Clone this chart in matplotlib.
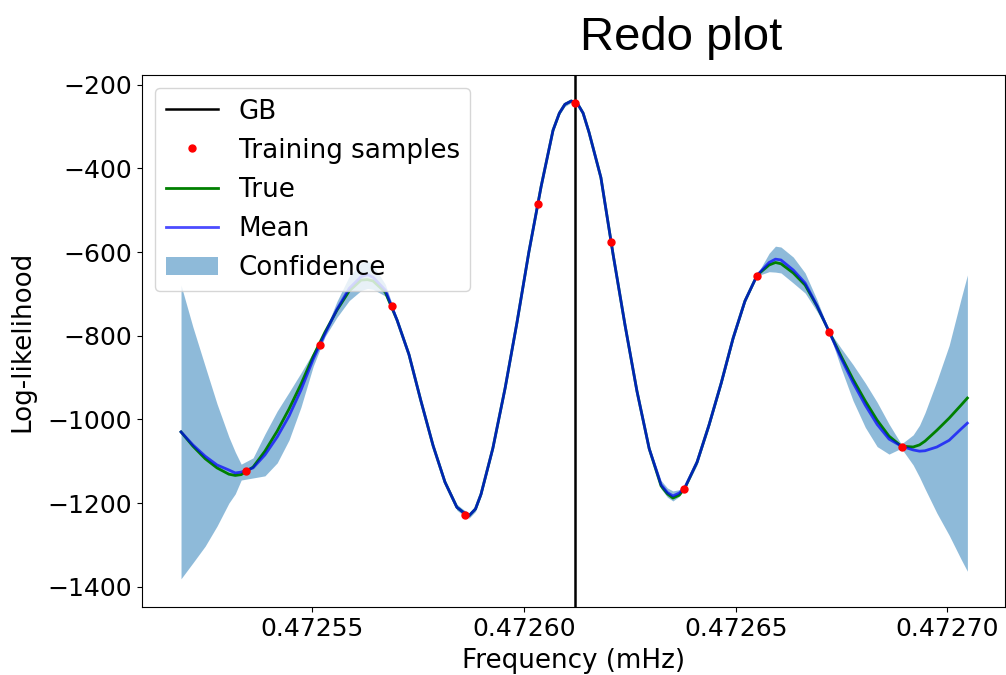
import matplotlib
matplotlib.use("Agg")
import matplotlib.pyplot as plt
import numpy as np
from matplotlib.ticker import MultipleLocator, FormatStrFormatter

# frequency grid (mHz)
freq = [0.4725191, 0.4725219, 0.4725248, 0.4725276, 0.4725304, 0.4725319,
        0.4725333, 0.4725361, 0.4725389, 0.4725418, 0.4725446, 0.4725474,
        0.4725503, 0.4725531, 0.4725559, 0.4725588, 0.4725616, 0.4725631,
        0.4725644, 0.4725673, 0.4725701, 0.4725729, 0.4725757, 0.4725786,
        0.4725814, 0.4725842, 0.4725857, 0.4725871, 0.4725886, 0.4725899,
        0.4725927, 0.4725956, 0.4725984, 0.4726012, 0.4726041, 0.4726069,
        0.4726084, 0.4726097, 0.4726112, 0.4726126, 0.4726140, 0.4726154,
        0.4726182, 0.4726211, 0.4726239, 0.4726267, 0.4726296, 0.4726324,
        0.4726339, 0.4726352, 0.4726367, 0.4726381, 0.4726409, 0.4726437,
        0.4726466, 0.4726494, 0.4726522, 0.4726551, 0.4726579, 0.4726594,
        0.4726607, 0.4726636, 0.4726664, 0.4726692, 0.4726721, 0.4726749,
        0.4726777, 0.4726806, 0.4726834, 0.4726862, 0.4726891, 0.4726919,
        0.4726934, 0.4726947, 0.4726975, 0.4727004, 0.4727032, 0.4727047]

# GP predicted mean
mean_ll = [-1030, -1061, -1088, -1109, -1121, -1128,
           -1126, -1116, -1085, -1042, -992, -930,
           -856, -795, -737, -687, -659, -654,
           -660, -691, -763, -845, -955, -1063,
           -1150, -1210, -1222, -1230, -1214, -1179,
           -1069, -925, -768, -600, -443, -309,
           -268, -247, -239, -244, -268, -314,
           -422, -607, -775, -932, -1070, -1156,
           -1175, -1183, -1176, -1161, -1102, -1014,
           -913, -806, -717, -655, -625, -617,
           -619, -643, -674, -728, -791, -854,
           -912, -966, -1012, -1047, -1064, -1073,
           -1076, -1075, -1066, -1050, -1023, -1009]

# true log-likelihood
true_ll = [-1030, -1064, -1094, -1116, -1131, -1134,
           -1132, -1114, -1076, -1028, -975, -916,
           -849, -791, -739, -693, -667, -666,
           -669, -696, -763, -845, -955, -1063,
           -1150, -1210, -1222, -1230, -1214, -1179,
           -1069, -925, -768, -600, -443, -309,
           -268, -247, -239, -244, -268, -314,
           -422, -607, -775, -932, -1070, -1159,
           -1178, -1188, -1181, -1162, -1102, -1014,
           -913, -806, -717, -655, -631, -625,
           -628, -650, -679, -729, -791, -849,
           -904, -956, -1002, -1040, -1064, -1066,
           -1061, -1052, -1026, -997, -966, -949]

# half width of confidence band
conf_half = [351, 282, 215, 146, 79, 50,
             19, 24, 50, 62, 57, 41,
             17, 7, 19, 29, 33, 33,
             29, 14, 5, 5, 5, 5,
             6, 7, 7, 6, 6, 5,
             5, 5, 5, 4, 3, 4,
             4, 5, 4, 4, 4, 4,
             4, 4, 5, 5, 6, 10,
             11, 12, 8, 5, 7, 7,
             7, 7, 5, 2, 22, 31,
             31, 31, 24, 14, 2, 24,
             43, 53, 53, 36, 5, 36,
             62, 91, 158, 227, 311, 354]

# training samples
sample_freq = [0.4725345, 0.4725518, 0.4725690, 0.4725862, 0.4726034, 0.4726120,
               0.4726206, 0.4726377, 0.4726550, 0.4726721, 0.4726893]
sample_ll = [-1124, -822, -729, -1228, -485, -244, -576, -1167, -657, -791, -1066]

gb_freq = 0.472612

freq = np.array(freq)
mean_ll = np.array(mean_ll)
conf_half = np.array(conf_half)

plt.rcParams['font.size'] = 18.8

fig = plt.figure(figsize=(10.06, 6.75), dpi=100)
ax = fig.add_axes([0.1412, 0.1007, 0.8579, 0.7881])

ax.axvline(gb_freq, color='k', lw=1.8, label='GB')
ax.plot(sample_freq, sample_ll, 'r.', ms=10, zorder=3, label='Training samples')
ax.plot(freq, true_ll, color='g', lw=2, label='True')
ax.plot(freq, mean_ll, color='b', lw=2, alpha=0.7, label='Mean')
ax.fill_between(freq, mean_ll - conf_half, mean_ll + conf_half,
                color='C0', alpha=0.5, lw=0, label='Confidence')

ax.set_xlim(0.4725099, 0.4727136)
ax.set_ylim(-1448.5, -177)
ax.xaxis.set_major_locator(MultipleLocator(0.00005))
ax.xaxis.set_major_formatter(FormatStrFormatter('%.5f'))
ax.yaxis.set_major_locator(MultipleLocator(200))
ax.tick_params(labelsize=18)

ax.set_xlabel('Frequency (mHz)', labelpad=5)
ax.set_ylabel('Log-likelihood', labelpad=9)
ax.legend(loc='upper left')

fig.text(0.677, 0.926, 'Redo plot', ha='center', va='baseline',
         fontsize=34, family=['Liberation Sans', 'DejaVu Sans'])

fig.savefig('out.png', dpi=100)
